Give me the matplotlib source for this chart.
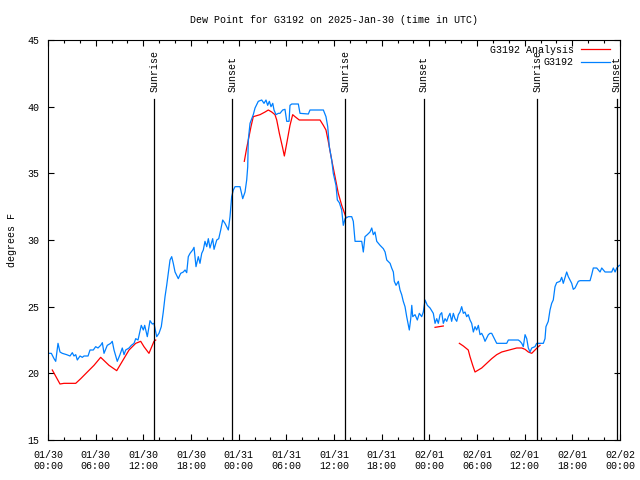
import numpy as np
import matplotlib
matplotlib.use("Agg")
import matplotlib.pyplot as plt

# hours since 2025-01-30 00:00 UTC
obs_hours = [0.0, 0.42, 0.76, 0.97, 1.26, 1.51, 1.80, 2.35, 2.77, 3.06, 3.27, 3.49, 3.69, 4.03, 4.32, 4.53,
             5.04, 5.29, 5.70, 6.00, 6.29, 6.63, 6.84, 7.05, 7.46, 7.89, 8.09, 8.31, 8.72, 9.06, 9.35, 9.57,
             9.78, 10.20, 10.49, 10.83, 11.04, 11.33, 11.74, 12.00, 12.17, 12.50, 12.84, 13.13, 13.34, 13.68,
             13.97, 14.26, 14.51, 14.73, 14.94, 15.14, 15.36, 15.57, 15.77, 15.99, 16.40, 16.70, 17.03, 17.25,
             17.46, 17.66, 17.88, 18.21, 18.38, 18.63, 18.92, 19.13, 19.35, 19.55, 19.76, 19.98, 20.18, 20.39,
             20.73, 20.90, 21.24, 21.49, 21.74, 21.99, 22.28, 22.70, 22.91, 23.12, 23.33, 23.54, 24.17, 24.51,
             24.80, 25.01, 25.14, 25.21, 25.43, 25.84, 26.06, 26.47, 26.90, 27.19, 27.44, 27.65, 27.86, 28.07,
             28.29, 28.45, 28.70, 28.99, 29.20, 29.54, 29.83, 30.05, 30.34, 30.46, 30.68, 31.51, 31.72, 32.77,
             32.98, 34.66, 34.99, 35.21, 35.41, 35.71, 35.91, 36.25, 36.42, 36.67, 36.97, 37.17, 37.39, 37.80,
             38.23, 38.43, 38.65, 39.49, 39.69, 39.90, 40.19, 40.53, 40.75, 40.95, 41.16, 41.38, 41.80, 42.21,
             42.43, 42.64, 43.06, 43.26, 43.47, 43.59, 43.81, 44.10, 44.31, 44.52, 44.72, 44.94, 45.15, 45.36,
             45.48, 45.66, 45.79, 45.91, 46.20, 46.49, 46.74, 47.04, 47.24, 47.46, 47.75, 48.09, 48.50, 48.72,
             48.93, 49.13, 49.35, 49.56, 49.76, 49.98, 50.19, 50.39, 50.60, 50.81, 51.02, 51.23, 51.45, 51.65,
             51.86, 52.07, 52.28, 52.49, 52.70, 52.90, 53.12, 53.33, 53.54, 53.75, 53.96, 54.17, 54.38, 54.59,
             54.80, 55.01, 55.43, 55.64, 55.85, 56.06, 56.27, 56.48, 57.74, 57.95, 59.20, 59.42, 59.63, 59.83,
             60.05, 60.26, 60.46, 60.67, 60.89, 61.30, 61.51, 62.35, 62.56, 62.68, 62.97, 63.19, 63.40, 63.60,
             63.82, 64.03, 64.45, 64.66, 64.86, 65.29, 65.49, 65.92, 66.12, 66.34, 66.75, 66.97, 68.23, 68.44,
             68.64, 69.07, 69.49, 69.70, 70.12, 70.96, 71.16, 71.38, 71.59, 71.92]
obs_dewpt = [21.5, 21.5, 21.1, 20.9, 22.25, 21.6, 21.5, 21.4, 21.3, 21.55, 21.3, 21.4, 21.0, 21.3, 21.2, 21.3,
             21.3, 21.75, 21.75, 22.0, 21.9, 22.1, 22.3, 21.5, 22.1, 22.25, 22.4, 21.75, 20.9, 21.4, 21.9, 21.4,
             21.75, 21.9, 22.1, 22.25, 22.6, 22.5, 23.6, 23.25, 23.6, 22.75, 23.95, 23.7, 23.75, 22.75,
             23.0, 23.5, 24.6, 25.75, 26.6, 27.5, 28.5, 28.75, 28.25, 27.6, 27.1, 27.5, 27.6, 27.75,
             27.55, 28.75, 29.0, 29.25, 29.45, 28.0, 28.75, 28.25, 29.0, 29.25, 29.9, 29.5, 30.1, 29.4,
             30.1, 29.3, 30.0, 30.1, 30.75, 31.5, 31.25, 30.75, 31.75, 33.25, 33.75, 34.0, 34.0, 33.1,
             33.6, 34.5, 35.5, 37.5, 38.75, 39.4, 39.9, 40.4, 40.5, 40.25, 40.5, 40.1, 40.4, 40.0,
             40.25, 39.75, 39.4, 39.5, 39.5, 39.75, 39.8, 38.9, 38.9, 40.1, 40.2, 40.2, 39.5, 39.45,
             39.75, 39.75, 39.25, 38.5, 37.0, 36.0, 35.0, 34.1, 33.0, 32.8, 32.25, 31.1, 31.6, 31.75,
             31.75, 31.4, 29.9, 29.9, 29.1, 30.25, 30.4, 30.6, 30.9, 30.4, 30.6, 29.9, 29.6, 29.35,
             29.1, 28.5, 28.25, 27.9, 27.6, 26.9, 26.6, 26.9, 26.25, 25.9, 25.4, 25.0, 24.25, 23.6,
             23.25, 24.1, 25.1, 24.25, 24.4, 24.0, 24.5, 24.25, 24.6, 25.5, 25.1, 24.9, 24.5, 23.75,
             24.1, 23.75, 24.4, 24.55, 23.75, 24.1, 23.9, 24.25, 24.5, 23.9, 24.5, 24.1, 23.9, 24.4,
             24.6, 25.0, 24.5, 24.6, 24.25, 24.4, 24.0, 23.75, 23.1, 23.5, 23.25, 23.6, 22.9, 23.0,
             22.75, 22.4, 22.9, 23.0, 23.0, 22.75, 22.5, 22.25, 22.25, 22.5, 22.5, 22.4, 22.25, 22.0,
             22.9, 22.6, 21.9, 21.6, 21.9, 22.0, 22.25, 22.25, 22.6, 23.5, 23.9, 24.75, 25.25, 25.5,
             26.5, 26.8, 26.9, 27.2, 26.75, 27.6, 27.25, 26.75, 26.3, 26.4, 26.9, 26.95, 26.95, 27.4,
             27.9, 27.9, 27.6, 27.9, 27.6, 27.6, 27.9, 27.6, 27.9, 28.1]

# analysis values (nan = gap)
ana_hours = [0.54, 1.51, 2.01, 3.49, 4.12, 4.95, 5.79, 6.63, 7.68, 8.65, 9.35, 10.20, 11.04, 11.67, 12.08,
             12.71, 13.34, 13.56, 14.0,
             24.71, 25.01, 25.30, 25.55, 25.84, 26.69, 27.32, 27.73, 28.16, 28.57, 28.79, 29.12, 29.54, 29.75,
             30.05, 30.46, 30.80, 31.09, 31.63, 34.24, 34.66, 34.99, 35.28, 35.71, 36.13, 36.54, 36.97, 37.39,
             37.51, 38.0,
             48.72, 49.76, 50.0,
             51.78, 52.28, 52.90, 53.12, 53.46, 53.75, 54.17, 54.59, 55.22, 55.85, 56.48, 57.11, 57.74, 58.37,
             59.00, 59.63, 60.05, 60.46, 60.89, 61.30, 61.72, 61.93]
ana_dewpt = [20.25, 19.2, 19.25, 19.25, 19.6, 20.1, 20.6, 21.2, 20.6, 20.2, 20.9, 21.75, 22.25, 22.4, 22.0,
             21.5, 22.4, 22.5, np.nan,
             35.9, 36.9, 37.75, 38.5, 39.25, 39.4, 39.6, 39.75, 39.6, 39.4, 39.0, 38.0, 36.9, 36.3,
             37.25, 38.6, 39.4, 39.25, 39.0, 39.0, 38.6, 38.25, 37.4, 36.0, 34.75, 33.5, 32.6, 31.9,
             31.7, np.nan,
             23.45, 23.55, np.nan,
             22.25, 22.05, 21.75, 21.25, 20.6, 20.1, 20.25, 20.4, 20.75, 21.1, 21.4, 21.6, 21.7, 21.8,
             21.9, 21.9, 21.8, 21.6, 21.5, 21.75, 22.0, 22.1]

sun_hours = [13.37, 23.2, 37.43, 47.33, 61.6, 71.58]
sun_labels = ["Sunrise", "Sunset", "Sunrise", "Sunset", "Sunrise", "Sunset"]

tick_hours = list(range(0, 73, 6))
tick_labels = ["01/30\n00:00", "01/30\n06:00", "01/30\n12:00", "01/30\n18:00",
               "01/31\n00:00", "01/31\n06:00", "01/31\n12:00", "01/31\n18:00",
               "02/01\n00:00", "02/01\n06:00", "02/01\n12:00", "02/01\n18:00",
               "02/02\n00:00"]

plt.rcParams['font.family'] = ['Liberation Mono', 'DejaVu Sans Mono']
plt.rcParams['font.size'] = 7.2

fig = plt.figure(figsize=(6.4, 4.8), dpi=100)
ax = fig.add_axes([48/640, 40/480, 572/640, 400/480])

ax.plot(ana_hours, ana_dewpt, color='#ff0000', lw=0.9, label='G3192 Analysis')
ax.plot(obs_hours, obs_dewpt, color='#0080ff', lw=0.9, label='G3192')

for h, lab in zip(sun_hours, sun_labels):
    ax.plot([h, h], [15, 40.58], color='black', lw=0.9)
    ax.text(h, 41.1, lab, rotation=90, ha='center', va='bottom')

ax.set_xlim(0, 72)
ax.set_ylim(15, 45)
ax.set_xticks(tick_hours)
ax.set_xticklabels(tick_labels)
ax.set_xticks(range(0, 73, 2), minor=True)
ax.set_yticks(range(15, 46, 5))
ax.tick_params(which='both', direction='in', top=True, right=True, width=0.8)
ax.tick_params(which='major', length=4.5)
ax.tick_params(which='minor', length=2.2)
ax.tick_params(axis='x', pad=7)
ax.tick_params(axis='y', pad=6)
for s in ax.spines.values():
    s.set_linewidth(0.8)

ax.set_ylabel('degrees F', labelpad=8)
fig.text(334/640, 1 - 20/480, 'Dew Point for G3192 on 2025-Jan-30 (time in UTC)',
         ha='center', va='center')

ax.legend(loc='upper right', bbox_to_anchor=(561.5/572, 0.9875), markerfirst=False,
          frameon=False, handlelength=2.9, handletextpad=0.7, labelspacing=0.25,
          borderaxespad=0, borderpad=0)

fig.savefig('out.png', dpi=100)
